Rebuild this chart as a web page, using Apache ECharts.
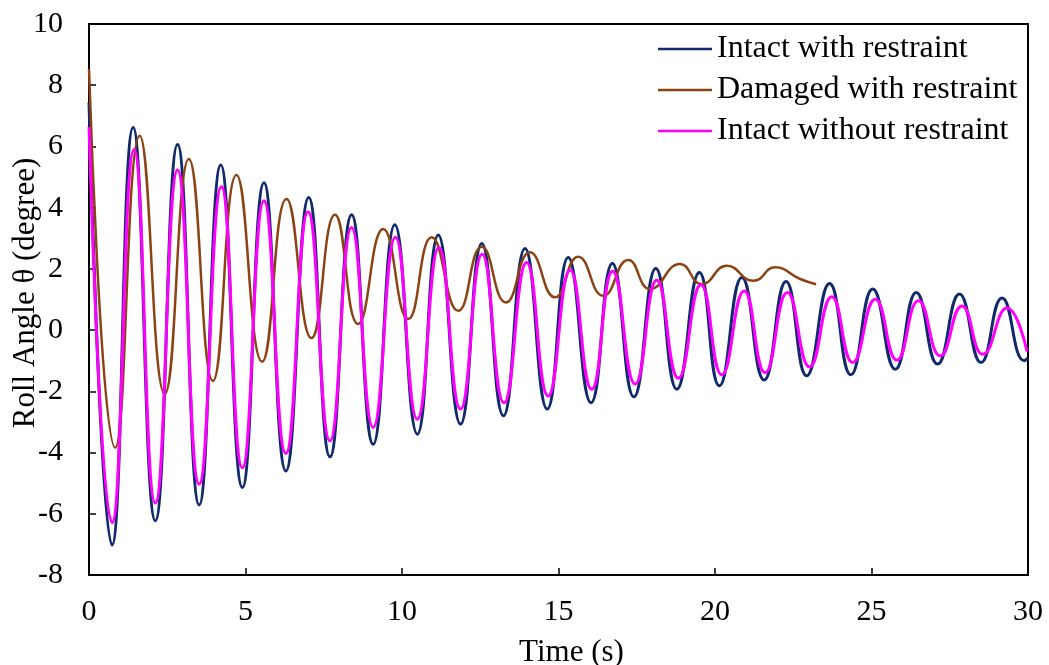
<!DOCTYPE html>
<html>
<head>
<meta charset="utf-8">
<script src="https://cdn.jsdelivr.net/npm/echarts@6/dist/echarts.min.js"></script>
<style>
html,body{margin:0;padding:0;background:#fff;}
#rollChart{width:1049px;height:665px;}
</style>
</head>
<body>
<div id="rollChart"></div>
<script>
// peaks and troughs (time in s, roll angle in degree)
var intactT = [0, 0.735, 1.41, 2.12, 2.83, 3.52, 4.21, 4.90, 5.59, 6.29, 7.02, 7.70, 8.39, 9.08, 9.77, 10.49, 11.16, 11.87, 12.55, 13.24, 13.93, 14.64, 15.31, 16.04, 16.72, 17.41, 18.11, 18.78, 19.50, 20.14, 20.86, 21.57, 22.27, 22.93, 23.66, 24.34, 25.04, 25.76, 26.43, 27.11, 27.81, 28.50, 29.17, 29.88, 30];
var intactV = [7.44, -7.02, 6.62, -6.23, 6.06, -5.71, 5.39, -5.14, 4.81, -4.60, 4.33, -4.14, 3.77, -3.73, 3.44, -3.40, 3.11, -3.07, 2.83, -2.80, 2.67, -2.58, 2.37, -2.37, 2.18, -2.18, 2.01, -1.93, 1.88, -1.82, 1.72, -1.63, 1.59, -1.49, 1.52, -1.46, 1.34, -1.28, 1.23, -1.11, 1.18, -1.06, 1.05, -1.00, -0.92];

var damagedT = [0, 0.84, 1.62, 2.42, 3.19, 3.96, 4.71, 5.53, 6.31, 7.11, 7.86, 8.60, 9.40, 10.20, 10.95, 11.80, 12.55, 13.32, 14.09, 14.89, 15.63, 16.43, 17.23, 17.93, 18.88, 19.58, 20.38, 21.23, 21.92, 22.72, 23.23];
var damagedV = [8.53, -3.84, 6.35, -2.09, 5.59, -1.66, 5.07, -1.03, 4.28, -0.26, 3.77, 0.20, 3.30, 0.36, 3.03, 0.63, 2.72, 0.90, 2.54, 1.07, 2.40, 1.12, 2.29, 1.34, 2.16, 1.50, 2.10, 1.61, 2.05, 1.67, 1.50];

var freeT = [0, 0.735, 1.44, 2.12, 2.83, 3.52, 4.23, 4.90, 5.59, 6.29, 7.00, 7.70, 8.39, 9.08, 9.79, 10.49, 11.18, 11.87, 12.56, 13.26, 13.98, 14.67, 15.37, 16.06, 16.73, 17.45, 18.14, 18.83, 19.55, 20.22, 20.93, 21.60, 22.31, 23.02, 23.73, 24.40, 25.12, 25.81, 26.50, 27.20, 27.89, 28.56, 29.33, 29.97];
var freeV = [6.64, -6.29, 5.89, -5.65, 5.23, -5.03, 4.68, -4.50, 4.23, -4.03, 3.87, -3.62, 3.35, -3.18, 3.03, -2.91, 2.70, -2.58, 2.48, -2.37, 2.21, -2.15, 1.96, -1.93, 1.92, -1.76, 1.63, -1.57, 1.48, -1.46, 1.28, -1.39, 1.23, -1.20, 1.09, -1.06, 1.01, -0.98, 0.96, -0.84, 0.79, -0.79, 0.72, -0.70];

var seriesNames = ['Intact with restraint', 'Damaged with restraint', 'Intact without restraint'];

function pairs(t, v) {
	return t.map(function (x, i) { return [x, v[i]]; });
}

var font = 'Liberation Serif, Times New Roman, serif';
var myChart = echarts.init(document.getElementById('rollChart'));
var option = {
	animation: false,
	backgroundColor: '#fff',
	grid: {
		left: 89, right: 21, top: 24, bottom: 90,
		outerBoundsMode: 'none',
		containLabel: false,
		show: true, borderColor: '#000', borderWidth: 2
	},
	legend: {
		orient: 'vertical',
		left: 658, top: 33,
		padding: 0,
		icon: 'rect',
		itemWidth: 54, itemHeight: 2.5, itemGap: 9,
		textStyle: { fontFamily: font, fontSize: 32, color: '#000' },
		data: seriesNames
	},
	xAxis: {
		type: 'value',
		min: 0, max: 30, interval: 5,
		name: 'Time (s)',
		nameLocation: 'middle',
		nameGap: 62,
		nameMoveOverlap: false,
		nameTextStyle: { fontFamily: font, fontSize: 31, color: '#000', padding: [0, 0, 0, 26] },
		axisLine: { onZero: false, lineStyle: { color: '#000', width: 2 } },
		axisTick: { inside: true, length: 7, lineStyle: { color: '#000', width: 1.5 } },
		axisLabel: { fontFamily: font, fontSize: 30, color: '#000', margin: 22 },
		splitLine: { show: false }
	},
	yAxis: {
		type: 'value',
		min: -8, max: 10, interval: 2,
		name: 'Roll Angle θ (degree)',
		nameLocation: 'middle',
		nameGap: 48,
		nameMoveOverlap: false,
		nameTextStyle: { fontFamily: font, fontSize: 31, color: '#000', padding: [0, 0, 0, 13] },
		axisLine: { onZero: false, lineStyle: { color: '#000', width: 2 } },
		axisTick: { inside: true, length: 7, lineStyle: { color: '#000', width: 1.5 } },
		axisLabel: { fontFamily: font, fontSize: 30, color: '#000', margin: 26 },
		splitLine: { show: false }
	},
	series: [{
		name: seriesNames[0],
		type: 'line',
		data: pairs(intactT, intactV),
		symbol: 'none',
		smooth: 0.5,
		color: '#102A6B',
		lineStyle: { width: 3 }
	}, {
		name: seriesNames[1],
		type: 'line',
		data: pairs(damagedT, damagedV),
		symbol: 'none',
		smooth: 0.5,
		color: '#8C4314',
		lineStyle: { width: 2.5 }
	}, {
		name: seriesNames[2],
		type: 'line',
		data: pairs(freeT, freeV),
		symbol: 'none',
		smooth: 0.5,
		color: '#FF00FF',
		lineStyle: { width: 3 }
	}]
};
myChart.setOption(option);
</script>
</body>
</html>
